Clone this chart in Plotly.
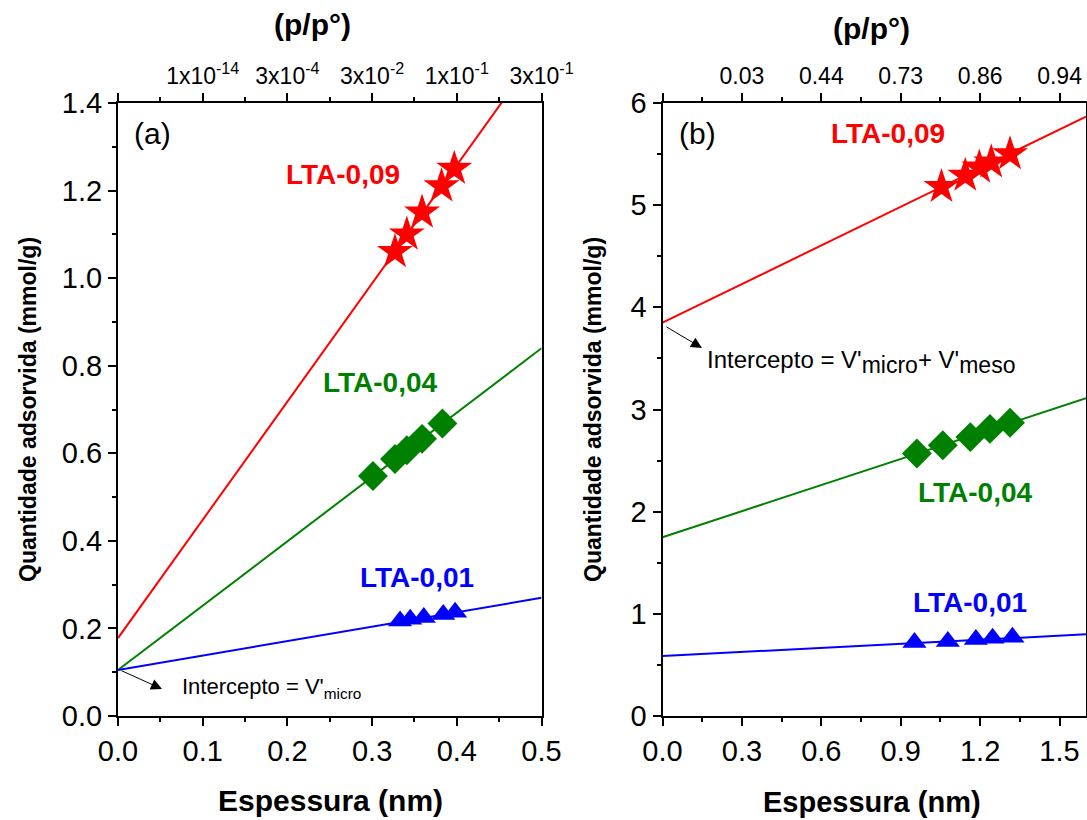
import plotly.graph_objects as go

W, H = 1087, 820

# ---- panel (a): micropore region ----
a_x_09 = [0.327, 0.341, 0.359, 0.382, 0.397]
a_y_09 = [1.06, 1.10, 1.15, 1.21, 1.25]
a_x_04 = [0.301, 0.327, 0.341, 0.359, 0.383]
a_y_04 = [0.548, 0.587, 0.607, 0.633, 0.668]
a_x_01 = [0.333, 0.345, 0.361, 0.384, 0.398]
a_y_01 = [0.217, 0.221, 0.225, 0.232, 0.237]
# linear fits: (intercept, slope)
a_fit_09 = (0.178, 2.70)
a_fit_04 = (0.105, 1.47)
a_fit_01 = (0.105, 0.33)

# ---- panel (b): meso + micropore region ----
b_x_09 = [1.054, 1.144, 1.197, 1.242, 1.313]
b_y_09 = [5.18, 5.29, 5.37, 5.42, 5.50]
b_x_04 = [0.961, 1.059, 1.163, 1.237, 1.313]
b_y_04 = [2.57, 2.65, 2.73, 2.81, 2.87]
b_x_01 = [0.952, 1.078, 1.184, 1.247, 1.322]
b_y_01 = [0.72, 0.73, 0.75, 0.76, 0.77]
b_fit_09 = (3.85, 1.26)
b_fit_04 = (1.75, 0.85)
b_fit_01 = (0.587, 0.133)

# top axis (relative pressure) labels
a_top_vals = [0, 0.1, 0.2, 0.3, 0.4, 0.5]
a_top_text = ["", "1x10<sup>-14</sup>", "3x10<sup>-4</sup>", "3x10<sup>-2</sup>",
              "1x10<sup>-1</sup>", "3x10<sup>-1</sup>"]
b_top_vals = [0, 0.3, 0.6, 0.9, 1.2, 1.5]
b_top_text = ["", "0.03", "0.44", "0.73", "0.86", "0.94"]

A_XMAX, A_YMAX = 0.5, 1.4
B_XMAX, B_YMAX = 1.6, 6.0

RED, GREEN, BLUE = "#ff0000", "#008000", "#0000ff"
FONT = "Liberation Sans, Arial, sans-serif"


def px(x):
    return x / W


def py(y):
    return 1 - y / H


fig = go.Figure()


def add_panel(xa, ya, fits, xmax, series):
    for (b, m), color in fits:
        fig.add_trace(go.Scatter(x=[0, xmax], y=[b, b + m * xmax], mode="lines",
                                 line=dict(color=color, width=2),
                                 xaxis=xa, yaxis=ya, showlegend=False,
                                 hoverinfo="skip"))
    for xs, ys, sym, size, color in series:
        fig.add_trace(go.Scatter(x=xs, y=ys, mode="markers",
                                 marker=dict(symbol=sym, size=size, color=color,
                                             line=dict(width=0)),
                                 xaxis=xa, yaxis=ya, showlegend=False))


add_panel("x", "y",
          [(a_fit_09, RED), (a_fit_04, GREEN), (a_fit_01, BLUE)], A_XMAX,
          [(a_x_09, a_y_09, "star", 27, RED),
           (a_x_04, a_y_04, "diamond", 23, GREEN),
           (a_x_01, a_y_01, "triangle-up", 21, BLUE)])
add_panel("x2", "y2",
          [(b_fit_09, RED), (b_fit_04, GREEN), (b_fit_01, BLUE)], B_XMAX,
          [(b_x_09, b_y_09, "star", 27, RED),
           (b_x_04, b_y_04, "diamond", 23, GREEN),
           (b_x_01, b_y_01, "triangle-up", 21, BLUE)])

# invisible traces so the top axes are rendered
fig.add_trace(go.Scatter(x=[0], y=[0], xaxis="x3", yaxis="y", mode="markers",
                         marker=dict(opacity=0), showlegend=False, hoverinfo="skip"))
fig.add_trace(go.Scatter(x=[0], y=[0], xaxis="x4", yaxis="y2", mode="markers",
                         marker=dict(opacity=0), showlegend=False, hoverinfo="skip"))

common = dict(showline=True, linecolor="black", linewidth=2, ticks="outside",
              ticklen=8, tickwidth=2, tickcolor="black", showgrid=False,
              zeroline=False, automargin=False,
              tickfont=dict(family=FONT, size=29, color="black"))

dom_a = [px(118), px(541.5)]
dom_b = [px(662.5), px(1086)]
dom_y = [py(716), py(103)]

fig.update_layout(
    width=W, height=H,
    margin=dict(l=0, r=0, t=0, b=0, pad=0, autoexpand=False),
    paper_bgcolor="white", plot_bgcolor="white",
    font=dict(family=FONT, color="black"),
    xaxis=dict(domain=dom_a, range=[0, A_XMAX], dtick=0.1, tick0=0, tickformat=".1f",
               anchor="y", mirror=True,
               minor=dict(dtick=0.05, tick0=0, ticks="outside", ticklen=4,
                          tickwidth=2, tickcolor="black"), **common),
    yaxis=dict(domain=dom_y, range=[0, A_YMAX], dtick=0.2, tick0=0, tickformat=".1f",
               anchor="x", mirror=True,
               minor=dict(dtick=0.1, tick0=0, ticks="outside", ticklen=4,
                          tickwidth=2, tickcolor="black"), **common),
    xaxis2=dict(domain=dom_b, range=[0, B_XMAX], dtick=0.3, tick0=0, tickformat=".1f",
                anchor="y2", mirror=True,
                minor=dict(dtick=0.15, tick0=0, ticks="outside", ticklen=4,
                           tickwidth=2, tickcolor="black"), **common),
    yaxis2=dict(domain=dom_y, range=[0, B_YMAX], dtick=1, tick0=0,
                anchor="x2", mirror=True,
                minor=dict(dtick=0.5, tick0=0, ticks="outside", ticklen=4,
                           tickwidth=2, tickcolor="black"), **common),
)

top_common = dict(common)
top_common["tickfont"] = dict(family=FONT, size=23, color="black")
fig.update_layout(
    xaxis3=dict(overlaying="x", side="top", anchor="y", range=[0, A_XMAX],
                tickmode="array", tickvals=a_top_vals, ticktext=a_top_text,
                minor=dict(dtick=0.05, tick0=0, ticks="outside", ticklen=4,
                           tickwidth=2, tickcolor="black"), **top_common),
    xaxis4=dict(overlaying="x2", side="top", anchor="y2", range=[0, B_XMAX],
                tickmode="array", tickvals=b_top_vals, ticktext=b_top_text,
                minor=dict(dtick=0.15, tick0=0, ticks="outside", ticklen=4,
                           tickwidth=2, tickcolor="black"), **top_common),
)

ann = []


def label(x, y, text, size=24, color="black", bold=False, angle=0, xanchor="center"):
    if bold:
        text = "<b>" + text + "</b>"
    ann.append(dict(x=px(x), y=py(y), xref="paper", yref="paper", text=text,
                    showarrow=False, textangle=angle, xanchor=xanchor,
                    yanchor="middle",
                    font=dict(family=FONT, size=size, color=color)))


# axis titles
label(330, 800, "Espessura (nm)", size=30, bold=True)
label(872, 802, "Espessura (nm)", size=29, bold=True)
label(28, 410, "Quantidade adsorvida (mmol/g)", size=23, bold=True, angle=-90)
label(593, 410, "Quantidade adsorvida (mmol/g)", size=23, bold=True, angle=-90)
label(312, 24, "(p/p°)", size=30, bold=True)
label(871, 28, "(p/p°)", size=30, bold=True)

# panel tags
label(152, 133, "(a)", size=30)
label(697, 133, "(b)", size=30)

# series labels
label(343, 175, "LTA-0,09", size=28, color=RED, bold=True)
label(380, 382, "LTA-0,04", size=28, color=GREEN, bold=True)
label(417, 577, "LTA-0,01", size=28, color=BLUE, bold=True)
label(888, 133, "LTA-0,09", size=28, color=RED, bold=True)
label(975, 492, "LTA-0,04", size=28, color=GREEN, bold=True)
label(970, 602, "LTA-0,01", size=28, color=BLUE, bold=True)

# intercept notes
label(180, 688, "Intercepto = V'<sub>micro</sub>", size=22, xanchor="left")
label(705, 362,
      "Intercepto = V'<sub><span style='font-size:23px'>micro</span></sub>"
      "+ V'<sub><span style='font-size:23px'>meso</span></sub>",
      size=24, xanchor="left")

# arrows from the intercept points
for hx, hy, tx, ty in [(162, 689, 120, 670), (702, 348, 665, 326)]:
    ann.append(dict(x=px(hx), y=py(hy), xref="paper", yref="paper", text="",
                    showarrow=True, arrowhead=2, arrowsize=2.2, arrowwidth=1,
                    arrowcolor="black", ax=tx - hx, ay=ty - hy))

fig.update_layout(annotations=ann)
fig.write_html("out.html")
